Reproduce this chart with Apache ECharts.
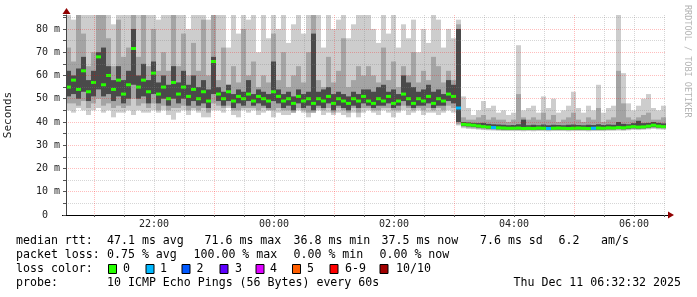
<!DOCTYPE html>
<html><head><meta charset="utf-8">
<script src="https://cdn.jsdelivr.net/npm/echarts@6/dist/echarts.min.js"></script>
<style>html,body{margin:0;padding:0;background:#fff}#c{width:697px;height:297px}</style>
</head><body><div id="c"></div>
<script>
// ---- time base: minutes after 20:00, one bin every 5 minutes from 20:32 ----
const START_MIN = 32;
const STEP_MIN = 5;
const X_MIN = 32, X_MAX = 632;
const xTickValues = [60,90,120,150,180,210,240,270,300,330,360,390,420,450,480,510,540,570,600,630];
const xLabelValues = [120,240,360,480,600];
const xLabelTexts = ['22:00','00:00','02:00','04:00','06:00'];
const yMax = 86;
const yTickStep = 5;

// ---- values in ms ----
const medianRtt = [
 55,58,54,62,53,57,68,56,60,54,58,52,56,71.6,55,58,53,61,52,55,50,57,52,55,51,54,50,53,49,66,
 52,50,53,49,51,50,52,49,51,50,49,53,51,49,50,48,51,49,50,48,50,49,51,48,50,49,48,50,49,51,
 49,48,50,49,51,48,49,52,50,48,50,49,51,48,50,49,52,51,
 46,
 39,38.8,38.6,38.3,38,37.8,37.6,37.5,37.4,37.3,37.3,37.4,37.2,37.3,37.2,37.4,37.3,37.2,37.3,37.4,
 37.3,37.2,37.3,37.4,37.3,37.2,37.3,37.4,37.3,37.5,37.4,37.6,37.5,37.8,38,37.8,37.9,38.2,38.6,38.2,38
];
const smokeMin = [
 45,44,46,45,43,45,46,44,45,42,44,44,45,43,45,44,44,45,44,45,43,41,44,45,43,45,44,42,42,45,
 45,44,46,43,42,45,44,45,43,44,45,42,44,43,43,44,45,44,42,44,45,43,44,43,44,43,42,44,42,44,
 45,44,43,45,44,42,44,45,43,44,45,43,44,44,43,44,45,44,
 38.5,
 37.3,37,36.9,36.7,36.5,36.4,36.3,36.2,36.1,36.1,36.1,36.1,36,36.1,36,36.1,36.1,36,36.1,36.1,
 36.1,36,36.1,36.1,36.1,36,36.1,36.1,36.1,36.2,36.2,36.3,36.2,36.4,36.6,36.5,36.6,36.8,37,36.8,36.7
];
const smokeLow = [
 48,48,47,49,46,48,50,47,48,46,47,46,47,50,47,48,46,48,45,47,45,46,46,47,45,46,45,46,44,48,
 47,46,47,45,45,46,46,46,45,46,45,45,46,45,45,44,46,45,44,44,46,45,46,44,46,45,44,46,44,46,
 46,45,45,46,46,45,45,47,46,45,46,45,46,45,46,45,47,46,
 39,
 37.8,37.5,37.3,37.1,36.9,36.8,36.7,36.6,36.5,36.5,36.5,36.5,36.4,36.5,36.4,36.5,36.5,36.4,36.5,36.5,
 36.5,36.4,36.5,36.5,36.5,36.4,36.5,36.5,36.5,36.6,36.6,36.7,36.6,36.8,37,36.9,37,37.2,37.4,37.2,37.1
];
const darkLow = [
 51,52,50,53,49,51,54,51,52,49,51,48,50,56,50,51,48,52,48,50,47,50,48,50,47,49,47,48,46,52,
 49,47,49,46,48,47,49,47,48,47,46,49,48,46,47,45,48,46,47,45,47,46,48,45,47,46,45,47,46,48,
 47,46,47,47,48,46,47,49,47,46,47,47,48,46,47,47,49,48,
 40,
 38.3,38.1,37.9,37.6,37.4,37.2,37,36.9,36.8,36.8,36.8,36.8,36.7,36.8,36.7,36.8,36.8,36.7,36.8,36.8,
 36.8,36.7,36.8,36.8,36.8,36.7,36.8,36.8,36.8,36.9,36.9,37,36.9,37.1,37.3,37.2,37.3,37.5,37.8,37.6,37.4
];
const darkHigh = [
 62,60,63,68,58,62,70,72,64,58,64,58,62,80,60,65,58,66,57,60,56,64,57,62,56,60,55,58,54,68,
 55,53,56,52,54,53,58,52,54,53,52,66,54,52,53,51,54,52,53,78,53,54,55,52,53,52,51,53,52,54,
 54,53,55,56,53,54,52,60,57,55,53,54,56,53,54,52,58,56,
 80,
 40,39.8,39.6,39.5,39.6,39.2,39,38.9,38.8,38.6,38.7,39,41,38.6,38.8,38.6,38.9,38.6,38.8,38.7,
 38.6,38.8,38.9,38.7,38.6,38.8,38.7,39,38.7,38.9,38.8,40,39.2,39,39.5,40.5,39.5,39.6,40,39.6,39.4
];
const smokeHigh = [
 72,66,90,78,64,70,90,90,76,64,84,68,72,90,68,86,64,80,62,70,62,90,64,78,60,74,62,84,60,90,
 58,72,56,64,57,80,60,66,55,60,57,78,58,70,55,60,64,57,70,88,58,55,68,57,62,76,55,58,64,60,
 64,60,57,72,58,66,55,64,60,70,57,62,58,68,64,57,62,58,
 82,
 42,41,41,42,43,41,42,41,41,40,41,52,42,41,42,41,44,41,43,40,
 41,42,44,41,40,42,41,46,40,41,42,62,48,42,41,42,43,44,41,41,42
];
const smokeMax = [
 90,84,90,90,86,90,90,90,90,82,90,90,90,90,88,90,90,90,84,90,90,90,86,90,80,90,90,90,84,90,
 90,88,72,90,78,90,84,90,70,86,76,90,80,90,74,82,90,78,90,90,86,72,90,80,84,90,76,82,90,86,
 86,80,74,88,78,86,72,82,76,84,70,80,74,86,84,72,80,76,
 84,
 51,46,43,45,49,46,47,44,45,43,44,73,45,46,47,44,51,46,50,44,
 45,47,53,46,44,47,45,56,44,46,47,86,61,48,45,47,50,52,46,45,47
];
// pings lost out of 10 per bin
const lossCount = [
 0,0,0,0,0,0,0,0,0,0,0,0,0,0,0,0,0,0,0,0,0,0,0,0,0,0,0,0,0,0,
 0,0,0,0,0,0,0,0,0,0,0,0,0,0,0,0,0,0,0,0,0,0,0,0,0,0,0,0,0,0,
 0,0,0,0,0,0,0,0,0,0,0,0,0,0,0,0,0,0,
 1,
 0,0,0,0,0,0,1,0,0,0,0,0,0,0,0,0,0,1,0,0,
 0,0,0,0,0,0,1,0,0,0,0,0,0,0,0,0,0,0,0,0,0
];
const lossLabels = ['0','1','2','3','4','5','6-9','10/10'];
const lossColors = ['#26ff00','#00b8ff','#0059ff','#5e00ff','#dd00ff','#ff5e00','#ff0000','#a10000'];

const rttLegend = ['median rtt:','47.1 ms avg','71.6 ms max','36.8 ms min','37.5 ms now','7.6 ms sd','6.2','am/s'];
const lossLegend = ['packet loss:','0.75 % avg','100.00 % max','0.00 % min','0.00 % now'];
const probeLabel = 'probe:';
const probeText = '10 ICMP Echo Pings (56 Bytes) every 60s';
const stampText = 'Thu Dec 11 06:32:32 2025';
const watermark = 'RRDTOOL / TOBI OETIKER';

// ---- layout (pixels) ----
const rttX = [16,107,204.5,293.5,381.5,480,558.5,601];
const lossX = [16,107,193.5,293.5,379.5];
const boxX = [108.5,146,182,220,256,292.5,330,380];
const labX = [123,160,196.5,235,270,307,345,396];

// ---- build ----
const MONO = '"DejaVu Sans Mono", monospace';
const FONT = '11.6px ' + MONO;
const smokeData = medianRtt.map((m, i) => [START_MIN + i * STEP_MIN, smokeMin[i], smokeLow[i], darkLow[i], darkHigh[i], smokeHigh[i], smokeMax[i]]);
const medianData = medianRtt.map((m, i) => [START_MIN + i * STEP_MIN, m, lossCount[i]]);
const BANDS = [{lo:1, hi:6, color:'#cdcdcd'}, {lo:2, hi:5, color:'#a4a4a4'}, {lo:3, hi:4, color:'#4a4a4a'}];
function lossIndex(n){ if (n <= 5) return n; if (n < 10) return 6; return 7; }

function binX(api, t) {
  return [Math.round(api.coord([t, 0])[0]), Math.round(api.coord([t + STEP_MIN, 0])[0])];
}
function renderSmoke(params, api) {
  const t = api.value(0);
  const [xa, xb] = binX(api, t);
  const cs = params.coordSys;
  const children = [];
  BANDS.forEach(b => {
    const ya = api.coord([t, api.value(b.lo)])[1];
    const yb = api.coord([t, api.value(b.hi)])[1];
    const shape = echarts.graphic.clipRectByRect(
      {x: xa, y: Math.min(ya, yb), width: xb - xa, height: Math.abs(yb - ya)},
      {x: cs.x, y: cs.y, width: cs.width, height: cs.height});
    if (shape) children.push({type:'rect', shape, style:{fill: b.color}});
  });
  return {type:'group', children};
}
function renderMedian(params, api) {
  const t = api.value(0);
  const [xa, xb] = binX(api, t);
  const y = api.coord([t, api.value(1)])[1];
  return {type:'rect', shape:{x: xa, y: y - 1.5, width: xb - xa, height: 3},
          style:{fill: lossColors[lossIndex(api.value(2))]}};
}

function txt(text, x, y, extra) {
  return {type:'text', x, y, style:Object.assign({text, font: FONT, fill:'#000', verticalAlign:'middle'}, extra || {})};
}
const graphics = [];
rttLegend.forEach((s, i) => graphics.push(txt(s, rttX[i], 241)));
lossLegend.forEach((s, i) => graphics.push(txt(s, lossX[i], 255)));
graphics.push(txt('loss color:', 16, 269));
lossLabels.forEach((l, i) => {
  graphics.push({type:'rect', shape:{x: boxX[i], y:264.5, width:8, height:9}, style:{fill: lossColors[i], stroke:'#000', lineWidth:1}});
  graphics.push(txt(l, labX[i], 269));
});
graphics.push(txt(probeLabel, 16, 283));
graphics.push(txt(probeText, 107, 283));
graphics.push(txt(stampText, 681, 283, {align:'right'}));
graphics.push({type:'text', x:687, y:5, rotation:-Math.PI/2, style:{text: watermark, font:'8.5px ' + MONO, fill:'#b4b4b4', verticalAlign:'middle'}});
graphics.push({type:'polygon', shape:{points:[[62.5,14],[70.5,14],[66.5,8]]}, style:{fill:'#900000'}});
graphics.push({type:'polygon', shape:{points:[[668,211.5],[668,218.5],[674,215]]}, style:{fill:'#900000'}});
graphics.push({type:'line', shape:{x1:62, y1:215.5, x2:668, y2:215.5}, style:{stroke:'#000', lineWidth:1}});

const PINK = 'rgba(255,0,0,0.26)', GREY = 'rgba(128,128,128,0.32)';
const chart = echarts.init(document.getElementById('c'), null, {renderer:'canvas'});
chart.setOption({
  animation: false,
  backgroundColor: '#ffffff',
  grid: {left: 66, right: 31, top: 15, bottom: 82, containLabel: false, outerBoundsMode: 'none'},
  xAxis: {
    type: 'value', min: X_MIN, max: X_MAX, z: 10,
    axisLine: {show: true, lineStyle: {color: '#000', width: 1}},
    axisTick: {show: true, customValues: xTickValues, length: 2, lineStyle: {color: '#555'}},
    axisLabel: {customValues: xLabelValues, margin: 4, color: '#222', fontFamily: 'DejaVu Sans Mono', fontSize: 10,
      formatter: v => xLabelTexts[xLabelValues.indexOf(v)] || ''},
    splitLine: {show: true, lineStyle: {color: [PINK, GREY, GREY, GREY], type: [1,1], width: 1}}
  },
  yAxis: {
    type: 'value', min: 0, max: yMax, interval: yTickStep, z: 10,
    name: 'Seconds', nameLocation: 'middle', nameRotate: 90, nameGap: 52,
    nameTextStyle: {fontFamily: 'DejaVu Sans Mono', fontSize: 11, color: '#222'},
    axisLine: {show: true, lineStyle: {color: '#444', width: 1}},
    axisTick: {show: true, length: 3, lineStyle: {color: '#555'}},
    axisLabel: {margin: 6, color: '#222', fontFamily: 'DejaVu Sans Mono', fontSize: 10,
      formatter: v => (v % 10 !== 0) ? '' : (v === 0 ? '0  ' : v + ' m')},
    splitLine: {show: true, showMaxLine: false, lineStyle: {color: [PINK, GREY], type: [1,1], width: 1}}
  },
  series: [
    {type: 'custom', name: 'smoke', renderItem: renderSmoke, data: smokeData, z: 2, encode: {x: 0, y: [1,6]}, silent: true},
    {type: 'custom', name: 'median', renderItem: renderMedian, data: medianData, z: 3, encode: {x: 0, y: 1}, silent: true}
  ],
  graphic: graphics
});
</script></body></html>
